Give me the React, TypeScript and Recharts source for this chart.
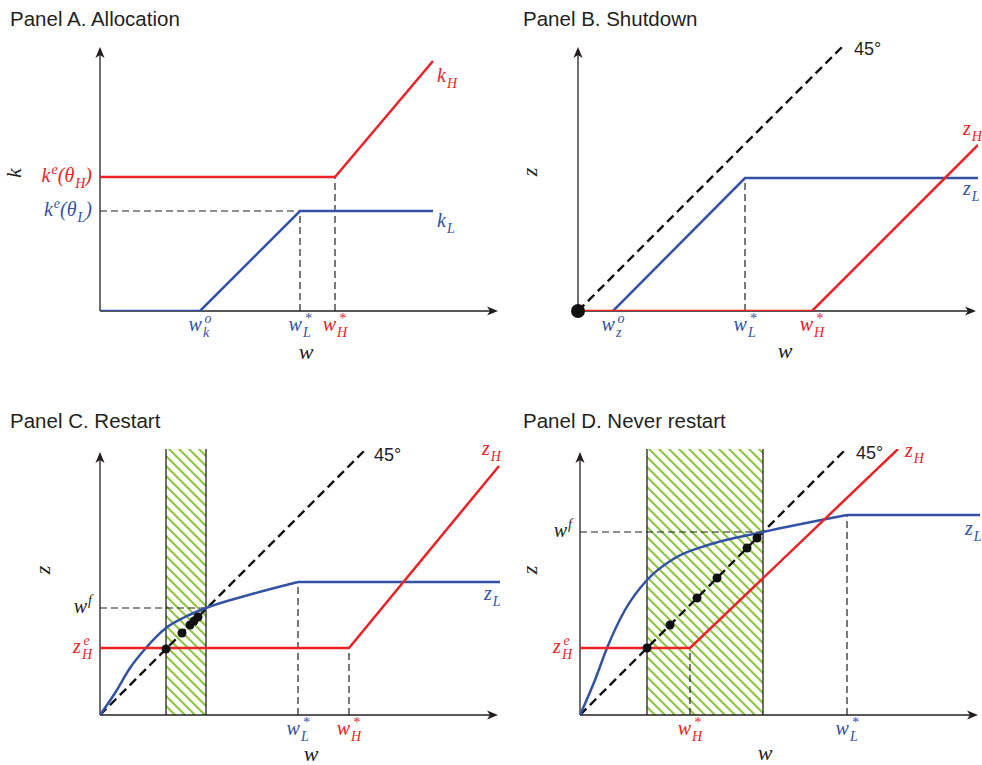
import React from "react";
import { ComposedChart, Line, Scatter, XAxis, YAxis, ReferenceLine, ReferenceArea, ReferenceDot } from "recharts";

const RED = "#ec2227";
const BLUE = "#3452a4";
const INK = "#231f20";
const GREEN = "#8cc63e";
const SERIF = '"Liberation Serif", "Times New Roman", serif';
const SANS = '"Liberation Sans", Arial, Helvetica, sans-serif';

// Panel A. Allocation
const aKH = [{ x: 0, y: 13.4 }, { x: 23.5, y: 13.4 }, { x: 33.3, y: 25 }];
const aKL = [{ x: 0, y: 0 }, { x: 10, y: 0 }, { x: 20, y: 10 }, { x: 33.3, y: 10 }];
const aXTicks = [10, 20, 23.5];
const aXLabels = ["w_k^o", "w_L^*", "w_H^*"];
const aYTicks = [13.4, 10];
const aYLabels = ["k^e(θ_H)", "k^e(θ_L)"];

// Panel B. Shutdown
const bDiag = [{ x: 0, y: 0 }, { x: 26.7, y: 26.7 }];
const bZL = [{ x: 3.5, y: 0 }, { x: 16.7, y: 13.3 }, { x: 40, y: 13.3 }];
const bZH = [{ x: 0, y: 0 }, { x: 23.4, y: 0 }, { x: 40, y: 16.6 }];
const bOrigin = [{ x: 0, y: 0 }];
const bXTicks = [3.5, 16.7, 23.4];
const bXLabels = ["w_z^o", "w_L^*", "w_H^*"];

// Panel C. Restart
const cDiag = [{ x: 0, y: 0 }, { x: 26.5, y: 26.5 }];
const cZL = [
  { x: 0, y: 0 }, { x: 1.5, y: 2.2 }, { x: 3, y: 4.7 }, { x: 4.5, y: 6.6 }, { x: 6.6, y: 8.7 },
  { x: 8.5, y: 9.8 }, { x: 10.6, y: 10.7 }, { x: 14.5, y: 11.9 }, { x: 19.8, y: 13.3 }, { x: 40, y: 13.3 },
];
const cZH = [{ x: 0, y: 6.7 }, { x: 24.9, y: 6.7 }, { x: 39.9, y: 24.9 }];
const cBand = [6.6, 10.6];
const cWf = 10.7;
const cDots = [{ x: 6.6, y: 6.6 }, { x: 8.2, y: 8.2 }, { x: 9.0, y: 9.0 }, { x: 9.4, y: 9.4 }, { x: 9.8, y: 9.8 }];
const cXTicks = [19.8, 24.9];
const cXLabels = ["w_L^*", "w_H^*"];
const cYTicks = [10.7, 6.7];
const cYLabels = ["w^f", "z_H^e"];

// Panel D. Never restart
const dDiag = [{ x: 0, y: 0 }, { x: 26.7, y: 26.7 }];
const dZL = [
  { x: 0, y: 0 }, { x: 1.5, y: 3.5 }, { x: 2.7, y: 6.7 }, { x: 4.5, y: 10.5 }, { x: 6.7, y: 13.5 },
  { x: 9.5, y: 15.7 }, { x: 12.8, y: 17.0 }, { x: 18.3, y: 18.3 }, { x: 26.7, y: 20.0 }, { x: 40, y: 20.0 },
];
const dZH = [{ x: 0, y: 6.7 }, { x: 11.0, y: 6.7 }, { x: 31.8, y: 26.6 }];
const dBand = [6.7, 18.3];
const dWf = 18.3;
const dDots = [{ x: 6.7, y: 6.7 }, { x: 9.0, y: 9.0 }, { x: 11.7, y: 11.7 }, { x: 13.7, y: 13.7 }, { x: 16.7, y: 16.7 }, { x: 17.7, y: 17.7 }];
const dXTicks = [11.0, 26.7];
const dXLabels = ["w_H^*", "w_L^*"];
const dYTicks = [18.3, 6.7];
const dYLabels = ["w^f", "z_H^e"];

const X_END = 39.8;

const GLYPH: Record<string, number> = { w: 0.667, k: 0.444, z: 0.389, L: 0.556, H: 0.722, e: 0.444, o: 0.5, f: 0.278, "*": 0.5 };
const cw = (c: string) => GLYPH[c] ?? 0.5;

function tone(tex: string) {
  if (tex.includes("H")) return RED;
  if (tex.includes("_")) return BLUE;
  return INK;
}

// tiny tex-ish renderer: x_a^b stacks sub and sup
function MathText({ x, y, tex, size = 20, anchor = "middle", fill, rotate }: any) {
  const s = Math.round(size * 0.7);
  const subOff = size * 0.28;
  const supOff = size * 0.42;
  const spans: React.ReactNode[] = [];
  let cur = 0, pend = 0, i = 0, k = 0;
  const push = (txt: string, off: number, fs: number, dx = 0) => {
    const d = dx + pend;
    spans.push(<tspan key={k++} dx={d || undefined} dy={off - cur || undefined} fontSize={fs}>{txt}</tspan>);
    pend = 0;
    cur = off;
  };
  while (i < tex.length) {
    if (tex[i] === "_" || tex[i] === "^") {
      let lo = "", hi = "";
      while (i < tex.length && (tex[i] === "_" || tex[i] === "^")) {
        if (tex[i] === "_") lo = tex[i + 1]; else hi = tex[i + 1];
        i += 2;
      }
      if (lo && hi) {
        const wl = cw(lo) * s, wh = cw(hi) * s;
        push(lo, subOff, s, 1);
        push(hi, -supOff, s, -wl + 1.5);
        pend = Math.max(0, wl - wh - 1.5);
      } else if (lo) push(lo, subOff, s, 1);
      else push(hi, -supOff, s, 1);
    } else {
      let run = "";
      while (i < tex.length && tex[i] !== "_" && tex[i] !== "^") run += tex[i++];
      push(run, 0, size);
    }
  }
  return (
    <text x={x} y={y} textAnchor={anchor} fontFamily={SERIF} fontStyle="italic" fontSize={size}
      fill={fill ?? tone(tex)} transform={rotate ? `rotate(${rotate}, ${x}, ${y})` : undefined}>
      {spans}
    </text>
  );
}

const arrowShape = (p: any) => {
  const { x1, y1, x2, y2 } = p;
  const len = Math.hypot(x2 - x1, y2 - y1) || 1;
  const ux = (x2 - x1) / len, uy = (y2 - y1) / len;
  const L = 11, W = 4.6, N = 3;
  const bx = x2 - ux * L, by = y2 - uy * L;
  const nx = x2 - ux * (L - N), ny = y2 - uy * (L - N);
  const d = `M${x2},${y2} L${bx - uy * W},${by + ux * W} L${nx},${ny} L${bx + uy * W},${by - ux * W} Z`;
  return (
    <g>
      <line x1={x1} y1={y1} x2={nx} y2={ny} stroke={INK} strokeWidth={1.3} />
      <path d={d} fill={INK} />
    </g>
  );
};

const xTick = (ticks: number[], labels: string[]) => (p: any) => {
  const tex = labels[ticks.indexOf(p.payload.value)] ?? "";
  return <MathText x={p.x} y={p.y + 20} tex={tex} />;
};
const yTick = (ticks: number[], labels: string[]) => (p: any) => {
  const tex = labels[ticks.indexOf(p.payload.value)] ?? "";
  return <MathText x={p.x - 8} y={p.y + 5} tex={tex} anchor="end" />;
};

const axes = (top: number) => [
  <ReferenceLine key="ax" segment={[{ x: 0, y: 0 }, { x: X_END, y: 0 }]} shape={arrowShape} ifOverflow="visible" />,
  <ReferenceLine key="ay" segment={[{ x: 0, y: 0 }, { x: 0, y: top }]} shape={arrowShape} ifOverflow="visible" />,
];

const guide = (key: string, a: { x: number; y: number }, b: { x: number; y: number }) => (
  <ReferenceLine key={key} segment={[a, b]} stroke={INK} strokeWidth={1.2} strokeDasharray="7 4" ifOverflow="visible" />
);

const tag = (key: string, pt: { x: number; y: number }, tex: string, dx: number, dy: number, opts: any = {}) => (
  <ReferenceDot key={key} x={pt.x} y={pt.y} r={0} ifOverflow="visible"
    label={(p: any) => {
      const vb = p.viewBox ?? p;
      return <MathText x={vb.x + dx} y={vb.y + dy} tex={tex} anchor="start" {...opts} />;
    }} />
);

const deg = (key: string, pt: { x: number; y: number }) => (
  <ReferenceDot key={key} x={pt.x} y={pt.y} r={0} ifOverflow="visible"
    label={(p: any) => {
      const vb = p.viewBox ?? p;
      return <text x={vb.x + 9} y={vb.y + 11} fontFamily={SANS} fontSize={18} fill={INK}>45°</text>;
    }} />
);

const dot = (r: number) => (p: any) => <circle cx={p.cx} cy={p.cy} r={r} fill="#111" />;

const hatch = (id: string) => (
  <defs>
    <pattern id={id} patternUnits="userSpaceOnUse" width={10} height={10}>
      <path d="M-1,9 L1,11 M0,0 L10,10 M9,-1 L11,1" stroke={GREEN} strokeWidth={2} />
    </pattern>
  </defs>
);

const last = <T,>(arr: T[]) => arr[arr.length - 1];

const title: React.CSSProperties = {
  position: "absolute", fontFamily: SANS, fontSize: 20.5, lineHeight: "24px", color: INK, whiteSpace: "nowrap",
};

const lineProps = { dot: false, isAnimationActive: false, strokeWidth: 2.5, dataKey: "y" } as const;
const diagProps = { dot: false, isAnimationActive: false, strokeWidth: 2.4, dataKey: "y", stroke: "#111", strokeDasharray: "9 5", type: "linear" } as const;
const titleW = { anchor: "middle", size: 22, fill: INK };
const titleZ = { anchor: "middle", size: 22, fill: INK, rotate: -90 };

function PanelA() {
  return (
    <ComposedChart width={520} height={380} margin={{ top: 47, right: 20, bottom: 0, left: 0 }}>
      <XAxis type="number" dataKey="x" domain={[0, 40]} allowDataOverflow ticks={aXTicks} interval={0}
        tick={xTick(aXTicks, aXLabels)} axisLine={false} tickLine={false} tickSize={0} tickMargin={0} height={69} />
      <YAxis type="number" dataKey="y" domain={[0, 26.4]} allowDataOverflow ticks={aYTicks} interval={0}
        tick={yTick(aYTicks, aYLabels)} axisLine={false} tickLine={false} tickSize={0} tickMargin={0} width={100} />
      {axes(26.4)}
      {guide("g1", { x: 0, y: aKL[2].y }, aKL[2])}
      {guide("g2", { x: aKL[2].x, y: 0 }, aKL[2])}
      {guide("g3", { x: aKH[1].x, y: 0 }, aKH[1])}
      <Line data={aKL} type="linear" stroke={BLUE} {...lineProps} />
      <Line data={aKH} type="linear" stroke={RED} {...lineProps} />
      {tag("tH", last(aKH), "k_H", 4, 21)}
      {tag("tL", last(aKL), "k_L", 4, 16)}
      {tag("tw", { x: 20.6, y: 0 }, "w", 0, 48, titleW)}
      {tag("tk", { x: 0, y: 13.8 }, "k", -79, 0, titleZ)}
    </ComposedChart>
  );
}

function PanelB() {
  return (
    <ComposedChart width={492} height={380} margin={{ top: 43, right: 4, bottom: 0, left: 0 }}>
      <XAxis type="number" dataKey="x" domain={[0, 40]} allowDataOverflow ticks={bXTicks} interval={0}
        tick={xTick(bXTicks, bXLabels)} axisLine={false} tickLine={false} tickSize={0} tickMargin={0} height={69} />
      <YAxis type="number" dataKey="y" domain={[0, 26.8]} allowDataOverflow ticks={[]} tick={false}
        axisLine={false} tickLine={false} width={88} />
      {axes(26.4)}
      {guide("g1", { x: bZL[1].x, y: 0 }, bZL[1])}
      <Line data={bDiag} {...diagProps} />
      <Line data={bZL} type="linear" stroke={BLUE} {...lineProps} />
      <Line data={bZH} type="linear" stroke={RED} {...lineProps} />
      {bOrigin.map((p, i) => (
        <ReferenceDot key={`o${i}`} x={p.x} y={p.y} r={7} fill="#111" stroke="none" ifOverflow="visible" />
      ))}
      {deg("d45", last(bDiag))}
      {tag("tH", last(bZH), "z_H", -15, -10)}
      {tag("tL", last(bZL), "z_L", -15, 17)}
      {tag("tw", { x: 20.7, y: 0 }, "w", 0, 47, titleW)}
      {tag("tz", { x: 0, y: 13.9 }, "z", -41, 0, titleZ)}
    </ComposedChart>
  );
}

function PanelC() {
  return (
    <ComposedChart width={520} height={385} margin={{ top: 69, right: 20, bottom: 0, left: 0 }}>
      {hatch("hatchC")}
      <XAxis type="number" dataKey="x" domain={[0, 40]} allowDataOverflow ticks={cXTicks} interval={0}
        tick={xTick(cXTicks, cXLabels)} axisLine={false} tickLine={false} tickSize={0} tickMargin={0} height={50} />
      <YAxis type="number" dataKey="y" domain={[0, 26.6]} allowDataOverflow ticks={cYTicks} interval={0}
        tick={yTick(cYTicks, cYLabels)} axisLine={false} tickLine={false} tickSize={0} tickMargin={0} width={100} />
      <ReferenceArea x1={cBand[0]} x2={cBand[1]} y1={0} y2={26.6} fill="url(#hatchC)" fillOpacity={1} stroke="none" ifOverflow="visible" />
      <ReferenceLine x={cBand[0]} stroke={INK} strokeWidth={1.3} />
      <ReferenceLine x={cBand[1]} stroke={INK} strokeWidth={1.3} />
      {axes(26.3)}
      {guide("g1", { x: 0, y: cWf }, { x: cBand[1], y: cWf })}
      {guide("g2", { x: cZL[8].x, y: 0 }, cZL[8])}
      {guide("g3", { x: cZH[1].x, y: 0 }, cZH[1])}
      <Line data={cDiag} {...diagProps} />
      <Line data={cZL.slice(0, -1)} type="monotone" stroke={BLUE} {...lineProps} />
      <Line data={cZL.slice(-2)} type="linear" stroke={BLUE} {...lineProps} />
      <Line data={cZH} type="linear" stroke={RED} {...lineProps} />
      <Scatter data={cDots} dataKey="y" shape={dot(4.5)} isAnimationActive={false} />
      {deg("d45", last(cDiag))}
      {tag("tH", last(cZH), "z_H", -17, -11)}
      {tag("tL", last(cZL), "z_L", -16, 18)}
      {tag("tw", { x: 21.1, y: 0 }, "w", 0, 46, titleW)}
      {tag("tz", { x: 0, y: 14.5 }, "z", -50, 0, titleZ)}
    </ComposedChart>
  );
}

function PanelD() {
  return (
    <ComposedChart width={492} height={385} margin={{ top: 69, right: 2, bottom: 0, left: 0 }}>
      {hatch("hatchD")}
      <XAxis type="number" dataKey="x" domain={[0, 40]} allowDataOverflow ticks={dXTicks} interval={0}
        tick={xTick(dXTicks, dXLabels)} axisLine={false} tickLine={false} tickSize={0} tickMargin={0} height={50} />
      <YAxis type="number" dataKey="y" domain={[0, 26.6]} allowDataOverflow ticks={dYTicks} interval={0}
        tick={yTick(dYTicks, dYLabels)} axisLine={false} tickLine={false} tickSize={0} tickMargin={0} width={90} />
      <ReferenceArea x1={dBand[0]} x2={dBand[1]} y1={0} y2={26.6} fill="url(#hatchD)" fillOpacity={1} stroke="none" ifOverflow="visible" />
      <ReferenceLine x={dBand[0]} stroke={INK} strokeWidth={1.3} />
      <ReferenceLine x={dBand[1]} stroke={INK} strokeWidth={1.3} />
      {axes(26.3)}
      {guide("g1", { x: 0, y: dWf }, { x: dBand[1], y: dWf })}
      {guide("g2", { x: dZH[1].x, y: 0 }, dZH[1])}
      {guide("g3", { x: dZL[8].x, y: 0 }, dZL[8])}
      <Line data={dDiag} {...diagProps} />
      <Line data={dZL.slice(0, -1)} type="monotone" stroke={BLUE} {...lineProps} />
      <Line data={dZL.slice(-2)} type="linear" stroke={BLUE} {...lineProps} />
      <Line data={dZH} type="linear" stroke={RED} {...lineProps} />
      <Scatter data={dDots} dataKey="y" shape={dot(4.5)} isAnimationActive={false} />
      {deg("d45", last(dDiag))}
      {tag("tH", last(dZH), "z_H", 7, 8)}
      {tag("tL", last(dZL), "z_L", -15, 20)}
      {tag("tw", { x: 18.5, y: 0 }, "w", 0, 45, titleW)}
      {tag("tz", { x: 0, y: 14.5 }, "z", -43, 0, titleZ)}
    </ComposedChart>
  );
}

export default function App() {
  return (
    <div style={{ position: "absolute", left: 0, top: 0, width: 982, height: 765, background: "#fff", overflow: "hidden" }}>
      <div style={{ position: "absolute", left: 0, top: 0 }}><PanelA /></div>
      <div style={{ position: "absolute", left: 490, top: 0 }}><PanelB /></div>
      <div style={{ position: "absolute", left: 0, top: 380 }}><PanelC /></div>
      <div style={{ position: "absolute", left: 490, top: 380 }}><PanelD /></div>
      <div style={{ ...title, left: 10, top: 7 }}>Panel A. Allocation</div>
      <div style={{ ...title, left: 523, top: 7 }}>Panel B. Shutdown</div>
      <div style={{ ...title, left: 10, top: 409 }}>Panel C. Restart</div>
      <div style={{ ...title, left: 523, top: 409 }}>Panel D. Never restart</div>
    </div>
  );
}
